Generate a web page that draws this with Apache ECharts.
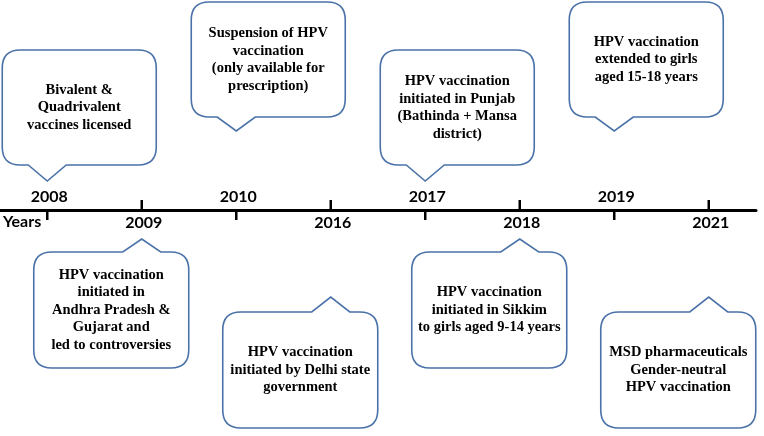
<!DOCTYPE html>
<html>
<head>
<meta charset="utf-8">
<script src="https://cdn.jsdelivr.net/npm/echarts@6/dist/echarts.min.js"></script>
<style>
  html, body { margin: 0; padding: 0; background: #fff; }
  #main { width: 764px; height: 436px; }
</style>
</head>
<body>
<div id="main"></div>
<script>
const years = ['2008', '2009', '2010', '2016', '2017', '2018', '2019', '2021']
const events = [
  'Bivalent &\nQuadrivalent\nvaccines licensed',
  'HPV vaccination\ninitiated in\nAndhra Pradesh &\nGujarat and\nled to controversies',
  'Suspension of HPV\nvaccination\n(only available for\nprescription)',
  'HPV vaccination\ninitiated by Delhi state\ngovernment',
  'HPV vaccination\ninitiated in Punjab\n(Bathinda + Mansa\ndistrict)',
  'HPV vaccination\ninitiated in Sikkim\nto girls aged 9-14 years',
  'HPV vaccination\nextended to girls\naged 15-18 years',
  'MSD pharmaceuticals\nGender-neutral\nHPV vaccination'
]

const boxColor = '#4a72a8'

// rounded box with a pointer on the top or bottom edge
function bubblePath (x0, y0, w, h, r, tx, ty, half, pointDown) {
  const x1 = x0 + w
  const y1 = y0 + h
  let d = 'M' + (x0 + r) + ',' + y0
  if (!pointDown) {
    d += ' L' + (tx - half) + ',' + y0 + ' L' + tx + ',' + ty + ' L' + (tx + half) + ',' + y0
  }
  d += ' L' + (x1 - r) + ',' + y0 + ' Q' + x1 + ',' + y0 + ' ' + x1 + ',' + (y0 + r)
  d += ' L' + x1 + ',' + (y1 - r) + ' Q' + x1 + ',' + y1 + ' ' + (x1 - r) + ',' + y1
  if (pointDown) {
    d += ' L' + (tx + half) + ',' + y1 + ' L' + tx + ',' + ty + ' L' + (tx - half) + ',' + y1
  }
  d += ' L' + (x0 + r) + ',' + y1 + ' Q' + x0 + ',' + y1 + ' ' + x0 + ',' + (y1 - r)
  d += ' L' + x0 + ',' + (y0 + r) + ' Q' + x0 + ',' + y0 + ' ' + (x0 + r) + ',' + y0 + ' Z'
  return d
}

function renderEvent (params, api) {
  const i = api.value(0)
  const p = api.coord([i, 0])
  const x = p[0]
  const y = p[1]
  const above = i % 2 === 0
  const far = Math.floor(i / 2) % 2 === 1
  let boxTop, boxH, boxLeft, boxW, tipY
  if (above) {
    boxH = 115
    boxW = 154
    boxLeft = x - 45
    boxTop = far ? y - 208 : y - 160
    tipY = far ? y - 79 : y - 29
  } else {
    boxH = 116
    boxW = 155
    boxLeft = x - 108
    boxTop = far ? y + 102 : y + 42
    tipY = far ? y + 87 : y + 29
  }
  return {
    type: 'group',
    children: [
      {
        type: 'line',
        shape: { x1: x, y1: y, x2: x, y2: above ? y + 10 : y - 10 },
        style: { stroke: '#000', lineWidth: 2.5 }
      },
      {
        type: 'text',
        style: {
          x: x + 2,
          y: above ? y - 13 : y + 13,
          text: years[i],
          align: 'center',
          verticalAlign: 'middle',
          font: 'bold 16px Lato',
          fill: '#000'
        }
      },
      {
        type: 'path',
        shape: {
          pathData: bubblePath(boxLeft, boxTop, boxW, boxH, 18, x, tipY, 19, above)
        },
        style: { fill: '#fff', stroke: boxColor, lineWidth: 1.6 }
      },
      {
        type: 'text',
        style: {
          x: boxLeft + boxW / 2,
          y: boxTop + boxH / 2,
          text: events[i],
          align: 'center',
          verticalAlign: 'middle',
          font: 'bold 14.5px "Liberation Serif"',
          lineHeight: 17.5,
          fill: '#000'
        }
      }
    ]
  }
}

const chart = echarts.init(document.getElementById('main'))
chart.setOption({
  backgroundColor: '#fff',
  animation: false,
  grid: { left: 0, right: 8, top: 0, height: 210 },
  xAxis: {
    type: 'category',
    data: years,
    axisLine: { lineStyle: { color: '#000', width: 3 } },
    axisTick: { show: false },
    axisLabel: { show: false }
  },
  yAxis: { type: 'value', min: 0, max: 1, show: false },
  graphic: [{
    type: 'text',
    left: 3,
    top: 214,
    style: { text: 'Years', font: 'bold 16px Lato', fill: '#000' }
  }],
  series: [{
    type: 'custom',
    data: years.map((y, i) => [i, 0]),
    renderItem: renderEvent,
    clip: false
  }]
})
</script>
</body>
</html>
